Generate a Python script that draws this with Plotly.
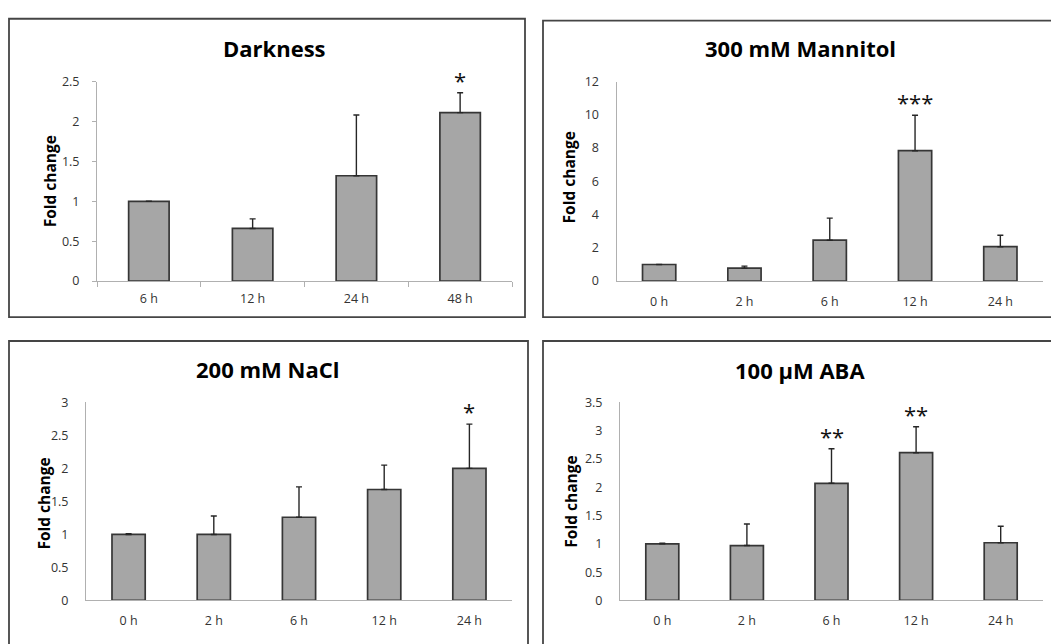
import plotly.graph_objects as go

W, H = 1051, 644

# ---------------- data ----------------
dark_cats = ["6 h", "12 h", "24 h", "48 h"]
dark_vals = [1.0, 0.66, 1.32, 2.11]
dark_err = [0.0, 0.12, 0.76, 0.25]
dark_stars = ["", "", "", "*"]

mann_cats = ["0 h", "2 h", "6 h", "12 h", "24 h"]
mann_vals = [1.0, 0.78, 2.46, 7.84, 2.07]
mann_err = [0.0, 0.12, 1.33, 2.13, 0.69]
mann_stars = ["", "", "", "***", ""]

nacl_cats = ["0 h", "2 h", "6 h", "12 h", "24 h"]
nacl_vals = [1.0, 1.0, 1.26, 1.68, 2.0]
nacl_err = [0.01, 0.28, 0.46, 0.37, 0.67]
nacl_stars = ["", "", "", "", "*"]

aba_cats = ["0 h", "2 h", "6 h", "12 h", "24 h"]
aba_vals = [1.0, 0.97, 2.07, 2.61, 1.02]
aba_err = [0.01, 0.38, 0.61, 0.46, 0.29]
aba_stars = ["", "", "**", "**", ""]

titles = ["Darkness", "300 mM Mannitol", "200 mM NaCl", "100 \u00b5M ABA"]
y_title = "Fold change"
y_ranges = [2.5, 12, 3, 3.5]
y_dticks = [0.5, 2, 0.5, 0.5]

# ---------------- layout geometry (pixels) ----------------
def px_x(p):
    return p / W

def px_y(p):
    return 1 - p / H

panels = [
    dict(cats=dark_cats, vals=dark_vals, err=dark_err, stars=dark_stars,
         xdom=[px_x(97), px_x(512)], ydom=[px_y(279.5), px_y(74.5)],
         ticks=True, title_xy=(274, 40), ytitle_xy=(50, 177),
         box=(9, 525, 10, 316.5)),
    dict(cats=mann_cats, vals=mann_vals, err=mann_err, stars=mann_stars,
         xdom=[px_x(616.5), px_x(1043)], ydom=[px_y(279.5), px_y(74.5)],
         ticks=False, title_xy=(800, 40), ytitle_xy=(569, 173),
         box=(543, 1060, 12, 316.5)),
    dict(cats=nacl_cats, vals=nacl_vals, err=nacl_err, stars=nacl_stars,
         xdom=[px_x(86), px_x(512)], ydom=[px_y(607.5), px_y(404)],
         ticks=False, title_xy=(267, 370), ytitle_xy=(44, 508),
         box=(9, 528, 341, 660)),
    dict(cats=aba_cats, vals=aba_vals, err=aba_err, stars=aba_stars,
         xdom=[px_x(620), px_x(1043)], ydom=[px_y(607.5), px_y(404)],
         ticks=False, title_xy=(800, 371), ytitle_xy=(571, 506),
         box=(543, 1060, 341, 660)),
]

FONT = "Open Sans"
BAR_FILL = "#a6a6a6"
BAR_LINE = "#363636"
AXIS_COL = "#b0b0b0"
TICK_COL = "#333333"

fig = go.Figure()
annotations = []
shapes = []
layout = dict(
    width=W, height=H, autosize=False,
    margin=dict(l=0, r=0, t=0, b=0),
    paper_bgcolor="white", plot_bgcolor="white",
    showlegend=False,
    font=dict(family=FONT, color=TICK_COL),
)

for i, p in enumerate(panels):
    n = i + 1
    xa = "x" if n == 1 else f"x{n}"
    ya = "y" if n == 1 else f"y{n}"
    fig.add_trace(go.Bar(
        x=p["cats"], y=p["vals"], xaxis=xa, yaxis=ya,
        width=0.39,
        marker=dict(color=BAR_FILL, line=dict(color=BAR_LINE, width=1.7)),
        error_y=dict(type="data", symmetric=False, array=p["err"],
                     arrayminus=[0] * len(p["err"]),
                     color="#262626", thickness=1.4, width=3),
        hoverinfo="skip",
    ))
    xkey = "xaxis" if n == 1 else f"xaxis{n}"
    ykey = "yaxis" if n == 1 else f"yaxis{n}"
    layout[xkey] = dict(
        domain=p["xdom"], anchor=ya, type="category",
        showline=True, linecolor=AXIS_COL, linewidth=1,
        showgrid=False, zeroline=False,
        ticks="outside" if p["ticks"] else "",
        tickson="boundaries", ticklen=5, tickcolor=AXIS_COL,
        tickfont=dict(family=FONT, size=12.5, color=TICK_COL),
        ticklabelstandoff=6 if p["ticks"] else 9,
        fixedrange=True,
    )
    layout[ykey] = dict(
        domain=p["ydom"], anchor=xa,
        range=[0, y_ranges[i]], dtick=y_dticks[i], tick0=0,
        showline=True, linecolor=AXIS_COL, linewidth=1,
        showgrid=False, zeroline=False,
        ticks="outside" if p["ticks"] else "",
        ticklen=4, tickcolor=AXIS_COL,
        tickfont=dict(family=FONT, size=12.5, color=TICK_COL),
        ticklabelstandoff=10 if p["ticks"] else 14,
        fixedrange=True,
    )
    # significance stars
    for c, v, e, s in zip(p["cats"], p["vals"], p["err"], p["stars"]):
        if s:
            annotations.append(dict(
                x=c, y=v + e, xref=xa, yref=ya, text=s, showarrow=False,
                xanchor="center", yanchor="bottom", yshift=-4,
                font=dict(family=FONT, size=22, color="#111111"),
            ))
    # panel title
    tx, ty = p["title_xy"]
    annotations.append(dict(
        x=px_x(tx), y=px_y(ty), xref="paper", yref="paper",
        text=titles[i], showarrow=False, xanchor="center", yanchor="middle",
        font=dict(family=FONT, size=22, color="#000000", weight="bold"),
    ))
    # y axis title
    yx, yy = p["ytitle_xy"]
    annotations.append(dict(
        x=px_x(yx), y=px_y(yy), xref="paper", yref="paper",
        text=y_title, showarrow=False, textangle=-90,
        xanchor="center", yanchor="middle",
        font=dict(family=FONT, size=15.5, color="#000000", weight="bold"),
    ))
    # panel frame
    bx0, bx1, by0, by1 = p["box"]
    shapes.append(dict(
        type="rect", xref="paper", yref="paper",
        x0=px_x(bx0), x1=px_x(bx1), y0=px_y(by1), y1=px_y(by0),
        line=dict(color="#454545", width=1.8), fillcolor="rgba(0,0,0,0)",
        layer="above",
    ))

layout["annotations"] = annotations
layout["shapes"] = shapes
fig.update_layout(**layout)

fig.write_html("out.html", config={"displayModeBar": False})
